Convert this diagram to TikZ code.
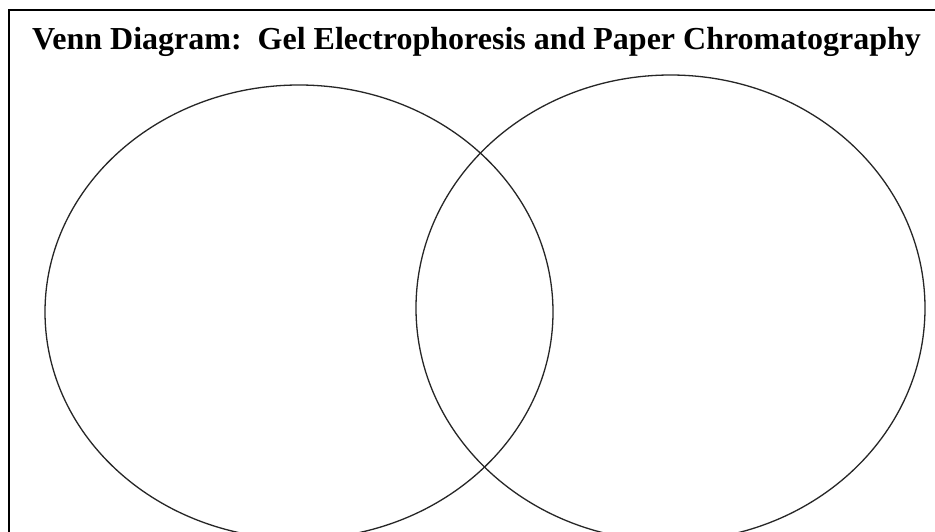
\documentclass[tikz,border=0pt]{standalone}
\usepackage{fontspec}
\setmainfont{Liberation Serif}
\usepackage{tikz}
\usetikzlibrary{positioning}

\begin{document}
\begin{tikzpicture}[
    x=1pt,y=-1pt,
    frame/.style={line width=2pt,black},
    venn/.style={line width=1.3pt,black!85},
    title/.style={font=\bfseries\fontsize{32}{36}\selectfont,anchor=base west,inner sep=0pt}
]
\useasboundingbox (0,0) rectangle (935,531);
\clip (0,0) rectangle (935,531);
\fill[white] (0,0) rectangle (935,531);

% box round the diagram
\draw[frame] (9,540) -- (9,10) -- (945,10);

\node[title] (heading) at (32,49) {Venn Diagram:\ \ Gel Electrophoresis and Paper Chromatography};

% the two sets
\draw[venn] (299,312) ellipse [x radius=254, y radius=227];
\draw[venn] (670.5,308) ellipse [x radius=254.5, y radius=233];

\end{tikzpicture}
\end{document}
